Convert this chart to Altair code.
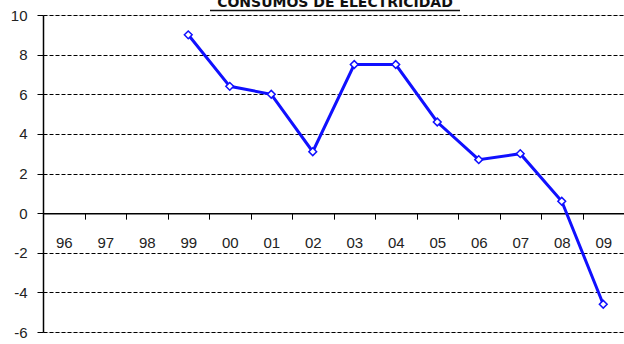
import altair as alt
import pandas as pd

# Year-on-year change in electricity consumption (%)
years = ["96", "97", "98", "99", "00", "01", "02", "03", "04", "05", "06", "07", "08", "09"]
data_years = ["99", "00", "01", "02", "03", "04", "05", "06", "07", "08", "09"]
values = [9.0, 6.4, 6.0, 3.1, 7.5, 7.5, 4.6, 2.7, 3.0, 0.6, -4.6]
y_ticks = [-6, -4, -2, 0, 2, 4, 6, 8, 10]
title_text = "CONSUMOS DE ELECTRICIDAD"

W, H = 581, 317
Y_MIN, Y_MAX = -6, 10
zero_px = H * Y_MAX / (Y_MAX - Y_MIN)

df = pd.DataFrame({"year": data_years, "value": values})

x_enc = alt.X(
    "year:N",
    scale=alt.Scale(domain=years, paddingInner=0, paddingOuter=0),
    sort=years,
    axis=alt.Axis(
        title=None,
        orient="bottom",
        offset=-(H - zero_px),
        tickBand="extent",
        tickSize=6,
        tickColor="black",
        domainColor="black",
        domainWidth=1.5,
        labelPadding=16,
        labelAngle=0,
        labelFont="Liberation Sans",
        labelFontSize=15,
        labelColor="#222",
        grid=False,
    ),
)

y_enc = alt.Y(
    "value:Q",
    scale=alt.Scale(domain=[Y_MIN, Y_MAX], nice=False, zero=False),
    axis=alt.Axis(
        title=None,
        values=y_ticks,
        labelExpr="'' + datum.value",
        tickSize=6,
        tickColor="black",
        domainColor="black",
        domainWidth=1.5,
        labelPadding=10,
        labelFont="Liberation Sans",
        labelFontSize=15,
        labelColor="#222",
        grid=True,
        gridColor="black",
        gridDash=[4, 2],
        gridWidth=1,
        gridOpacity=1,
    ),
)

line = alt.Chart(df).mark_line(
    color="#1010ff", strokeWidth=3,
    point=alt.OverlayMarkDef(shape="diamond", filled=True, fill="white",
                             stroke="#1010ff", strokeWidth=1.5, size=60),
).encode(x=x_enc, y=y_enc)

title = alt.Chart(pd.DataFrame({"t": [title_text]})).mark_text(
    font="DejaVu Sans", fontWeight="bold", fontSize=14, color="#111",
    baseline="alphabetic", align="center",
).encode(text="t:N", x=alt.value(292), y=alt.value(-8))

underline = alt.Chart(pd.DataFrame({"t": [title_text]})).mark_rule(
    color="#111", strokeWidth=1.5,
).encode(x=alt.value(167), x2=alt.value(417), y=alt.value(-4.5))

chart = alt.layer(line, title, underline).properties(
    width=W, height=H,
    autosize=alt.AutoSizeParams(type="none"),
    padding={"left": 43, "top": 15, "right": 0, "bottom": 12},
).configure_view(stroke=None).configure(background="white")

chart.save("out.html", embed_options={"renderer": "svg", "actions": False})
